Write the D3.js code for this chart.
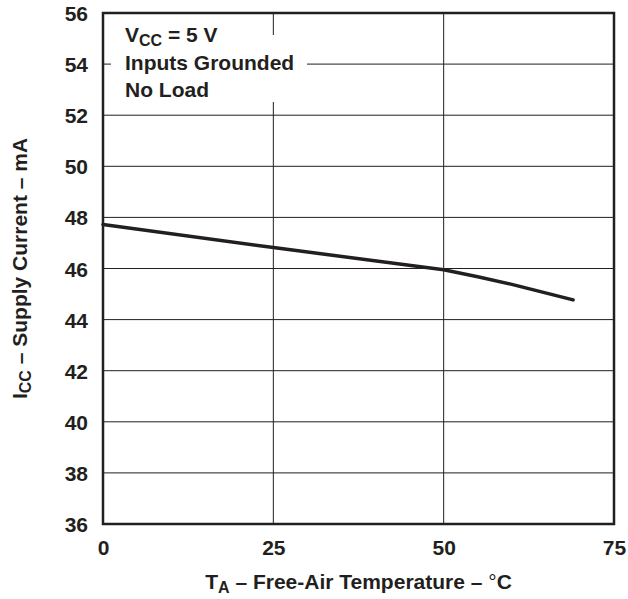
<!DOCTYPE html>
<html>
<head>
<meta charset="utf-8">
<script src="https://cdn.jsdelivr.net/npm/d3@7"></script>
<style>
  html, body { margin: 0; padding: 0; background: #fff; }
  svg { display: block; }
  text { font-family: "Liberation Sans", Arial, Helvetica, sans-serif; font-weight: bold; fill: #231f20; }
</style>
</head>
<body>
<svg id="chart" width="628" height="599"></svg>
<script>
// ---- data ----
const temperature = [0, 25, 50, 55, 60, 69];          // °C
const supplyCurrent = [47.72, 46.82, 45.95, 45.68, 45.38, 44.77]; // mA
const xTicks = [0, 25, 50, 75];
const yTicks = [36, 38, 40, 42, 44, 46, 48, 50, 52, 54, 56];
const notes = ["Inputs Grounded", "No Load"];

// ---- layout ----
const W = 628, H = 599;
const L = 103, R = 614, T = 13, B = 524;
const svg = d3.select("#chart");

const x = d3.scaleLinear().domain([0, 75]).range([L, R]);
const y = d3.scaleLinear().domain([36, 56]).range([B, T]);

const ink = "#231f20";

// gridlines
const g = svg.append("g");
g.selectAll("line.v").data(xTicks.slice(1, -1)).enter().append("line")
  .attr("x1", d => x(d)).attr("x2", d => x(d)).attr("y1", T).attr("y2", B)
  .attr("stroke", ink).attr("stroke-width", 1);
g.selectAll("line.h").data(yTicks.slice(1, -1)).enter().append("line")
  .attr("x1", L).attr("x2", R).attr("y1", d => y(d)).attr("y2", d => y(d))
  .attr("stroke", ink).attr("stroke-width", 1);

// white box behind the notes
svg.append("rect").attr("x", L + 8).attr("y", 35).attr("width", 196).attr("height", 67).attr("fill", "#fff");

// data line
const line = d3.line().x((d, i) => x(temperature[i])).y(d => y(d));
svg.append("path").datum(supplyCurrent).attr("d", line)
  .attr("fill", "none").attr("stroke", ink).attr("stroke-width", 3.5)
  .attr("stroke-linecap", "round").attr("stroke-linejoin", "round");

// frame
svg.append("rect").attr("x", L).attr("y", T).attr("width", R - L).attr("height", B - T)
  .attr("fill", "none").attr("stroke", ink).attr("stroke-width", 2.5);

// axes (labels only, via d3 axes)
const fs = 21, fsub = 16;
const yAxis = svg.append("g").attr("transform", `translate(${L},0)`)
  .call(d3.axisLeft(y).tickValues(yTicks).tickSize(0).tickPadding(15).tickFormat(d3.format("d")));
yAxis.select(".domain").remove();
yAxis.selectAll("text").style("font-size", fs + "px").attr("dy", "0.36em");

const xAxis = svg.append("g").attr("transform", `translate(0,${B})`)
  .call(d3.axisBottom(x).tickValues(xTicks).tickSize(0).tickPadding(16).tickFormat(d3.format("d")));
xAxis.select(".domain").remove();
xAxis.selectAll("text").style("font-size", fs + "px");

// notes
const n0 = svg.append("text").attr("x", 125).attr("y", 42).style("font-size", fs + "px");
n0.append("tspan").text("V");
n0.append("tspan").attr("dy", 4).style("font-size", fsub + "px").text("CC");
n0.append("tspan").attr("dy", -4).text(" = 5 V");
svg.selectAll("text.note").data(notes).enter().append("text").attr("class", "note")
  .attr("x", 125).attr("y", (d, i) => 70 + i * 27).style("font-size", fs + "px").text(d => d);

// x title
const xt = svg.append("text").attr("x", (L + R) / 2).attr("y", 589).attr("text-anchor", "middle").style("font-size", fs + "px");
xt.append("tspan").text("T");
xt.append("tspan").attr("dy", 4).style("font-size", fsub + "px").text("A");
xt.append("tspan").attr("dy", -4).text(" – Free-Air Temperature – ");
xt.append("tspan").style("font-weight", "normal").text("°");
xt.append("tspan").text("C");

// y title
const yt = svg.append("text").attr("transform", `translate(27,${(T + B) / 2}) rotate(-90)`)
  .attr("text-anchor", "middle").style("font-size", fs + "px");
yt.append("tspan").text("I");
yt.append("tspan").attr("dy", 4).style("font-size", fsub + "px").text("CC");
yt.append("tspan").attr("dy", -4).text(" – Supply Current – mA");
</script>
</body>
</html>
